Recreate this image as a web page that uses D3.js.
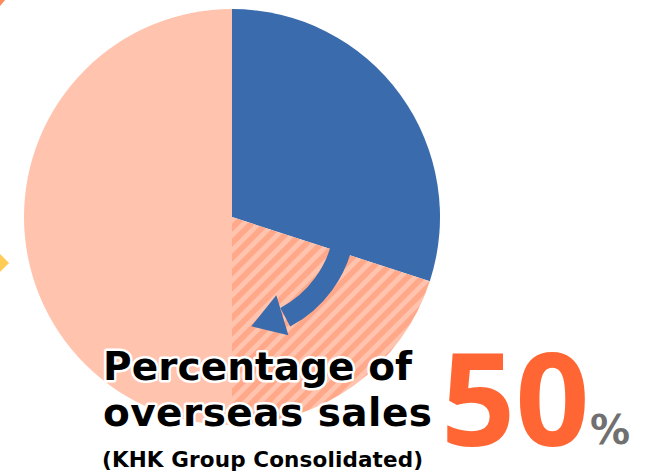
<!DOCTYPE html>
<html>
<head>
<meta charset="utf-8">
<script src="https://cdn.jsdelivr.net/npm/d3@7"></script>
<style>
  html, body { margin: 0; padding: 0; background: #fff; }
  svg { display: block; }
</style>
</head>
<body>
<svg id="chart" width="646" height="472"></svg>
<script>
// ---- data ----
const categories = ["Overseas (main)", "Overseas (other)", "Domestic"];
const values = [30, 20, 50];
const headlineValue = ["50"];
const titleLines = ["Percentage of", "overseas sales"];
const subtitle = ["(KHK Group Consolidated)"];

const W = 646, H = 472;
const svg = d3.select("#chart");
const cx = 232, cy = 217, R = 208;

const defs = svg.append("defs");
const pat = defs.append("pattern")
  .attr("id", "hatch")
  .attr("patternUnits", "userSpaceOnUse")
  .attr("width", 10.6).attr("height", 10.6)
  .attr("patternTransform", "rotate(45)");
pat.append("rect").attr("width", 10.6).attr("height", 10.6).attr("fill", "#FFA98A");
pat.append("rect").attr("x", 0).attr("width", 4.8).attr("height", 10.6).attr("fill", "#FFC3AE");

// decorations
svg.append("circle").attr("cx", -30).attr("cy", -25).attr("r", 40)
  .attr("fill", "none").attr("stroke", "#FF8A5C").attr("stroke-width", 6);
svg.append("path")
  .attr("d", "M-2,252 L9,263 L-2,274 Z")
  .attr("fill", "#FFCC55");

const fills = ["#3A6BAD", "url(#hatch)", "#FFC3AE"];
const color = d3.scaleOrdinal().domain(categories).range(fills);

const pie = d3.pie().sort(null).value(d => d.v).startAngle(0).endAngle(2 * Math.PI);
const arcs = pie(categories.map((c, i) => ({ c, v: values[i] })));
const arcGen = d3.arc().innerRadius(0).outerRadius(R);

const g = svg.append("g").attr("transform", `translate(${cx},${cy})`);
g.selectAll("path.slice").data(arcs).join("path")
  .attr("class", "slice")
  .attr("d", arcGen)
  .attr("fill", d => color(d.data.c));

// curved arrow (from first slice toward second)
const deg = Math.PI / 180;
const arrowArc = d3.arc().innerRadius(103).outerRadius(124)
  .startAngle(100 * deg).endAngle(152 * deg);
g.append("path").attr("d", arrowArc).attr("fill", "#3A6BAD");
const polar = (a, r) => [r * Math.sin(a * deg), -r * Math.cos(a * deg)];
const head = [polar(150.5, 90), polar(170, 111), polar(154.5, 131)];
g.append("path").attr("d", "M" + head.map(p => p.join(",")).join("L") + "Z")
  .attr("fill", "#3A6BAD");

// texts
const tFont = "'DejaVu Sans', Verdana, sans-serif";
const titleWidths = [309, 329];
const title = svg.append("g");
title.selectAll("text").data(titleLines).join("text")
  .attr("x", 103)
  .attr("y", (d, i) => 380 + i * 46)
  .attr("font-family", tFont)
  .attr("font-weight", "bold")
  .attr("font-size", 39)
  .attr("textLength", (d, i) => titleWidths[i])
  .attr("lengthAdjust", "spacing")
  .attr("fill", "#000")
  .attr("stroke", "#fff")
  .attr("stroke-width", 5)
  .attr("stroke-linejoin", "round")
  .attr("paint-order", "stroke")
  .text(d => d);

svg.append("text").data(subtitle)
  .attr("x", 102).attr("y", 467)
  .attr("font-family", tFont)
  .attr("font-weight", "bold")
  .attr("font-size", 21.5)
  .attr("textLength", 321)
  .attr("lengthAdjust", "spacing")
  .attr("fill", "#000")
  .text(d => d);

svg.append("text").data(headlineValue)
  .attr("x", 441).attr("y", 446)
  .attr("font-family", "'Open Sans', sans-serif")
  .attr("font-weight", "bold")
  .attr("font-size", 130)
  .attr("fill", "#FF6633")
  .text(d => d);

svg.append("text")
  .attr("x", 590).attr("y", 444)
  .attr("font-family", tFont)
  .attr("font-weight", "bold")
  .attr("font-size", 40)
  .attr("fill", "#707070")
  .text("%");
</script>
</body>
</html>
